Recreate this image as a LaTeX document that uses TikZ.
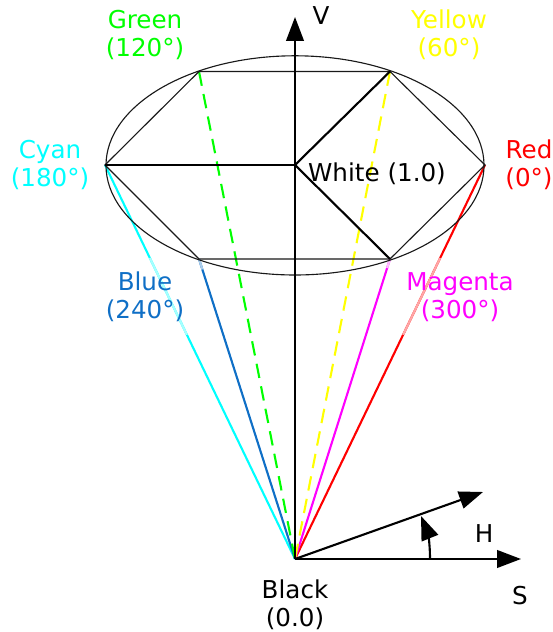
\documentclass[tikz,border=0pt]{standalone}
\usepackage{fontspec}
\setmainfont{DejaVu Sans}
\usepackage{xcolor}
\usetikzlibrary{arrows.meta,calc}
\definecolor{hsvRed}{HTML}{FF0000}
\definecolor{hsvYellow}{HTML}{FFFF00}
\definecolor{hsvGreen}{HTML}{00FF00}
\definecolor{hsvCyan}{HTML}{00FFFF}
\definecolor{hsvBlue}{HTML}{0F6FC6}
\definecolor{hsvMagenta}{HTML}{FF00FF}

\begin{document}
\begin{tikzpicture}[
    rim/.style={draw=black!90, line width=0.8pt},
    spoke/.style={draw=black, line width=1.5pt},
    axis/.style={draw=black, line width=1.5pt, -{Triangle[length=17pt,width=12.5pt]}},
    ray/.style={line width=1.5pt},
    dashray/.style={line width=1.5pt, dash pattern=on 10.3pt off 6pt},
    label/.style={font=\fontsize{17.5}{20}\selectfont, align=center, inner sep=0pt}
]
\useasboundingbox (0,0) rectangle (13.8,15.8);

% ===== CORNERS =====
\coordinate (O) at (7.375,11.675);
\coordinate (K) at (7.375,1.825);
\coordinate (R) at (12.125,11.675);
\coordinate (Y) at (9.75,14.0125);
\coordinate (G) at (4.975,14.0125);
\coordinate (C) at (2.625,11.675);
\coordinate (B) at (4.975,9.325);
\coordinate (M) at (9.75,9.325);
\coordinate (Vtip) at (7.375,15.375);
\coordinate (Stip) at (13.025,1.825);
\coordinate (Htip) at (12.075,3.5);
\coordinate (Afrom) at (10.75,1.825);
\coordinate (Ato) at (10.525,2.9);

% ===== RAYS TO BLACK =====
\draw[ray, hsvRed] (R) -- (K);
\draw[ray, hsvCyan] (C) -- (K);
\draw[ray, hsvBlue] (B) -- (K);
\draw[ray, hsvMagenta] (M) -- (K);
\draw[dashray, hsvGreen] (G) -- (K);
\draw[dashray, hsvYellow] (Y) -- (K);

% pale parts behind the labels
\draw[ray, hsvRed!35] ($(R)!0.236!(K)$) -- ($(R)!0.431!(K)$);
\draw[ray, hsvCyan!35] ($(C)!0.236!(K)$) -- ($(C)!0.431!(K)$);
\draw[ray, hsvBlue!35] (B) -- ($(B)!0.035!(K)$);
\draw[ray, hsvMagenta!25] (M) -- ($(M)!0.03!(K)$);

% ===== HEXAGON =====
\draw[rim] (7.375,11.665) ellipse (4.725 and 2.74);
\draw[rim] (R) -- (Y) -- (G) -- (C) -- (B) -- (M) -- cycle;
\draw[spoke] (C) -- (O);
\draw[spoke] (Y) -- (O) -- (M);

% ===== AXES =====
\draw[axis] (K) -- (Vtip);
\draw[axis] (K) -- (Stip);
\draw[axis] (K) -- (Htip);
\draw[axis] (Afrom) to[out=90, in=-68] (Ato);

% ===== LABELS =====
\node[label, text=hsvGreen] (lG) at (3.625,14.93) {Green\\(120°)};
\node[label, text=hsvYellow] (lY) at (11.225,14.93) {Yellow\\(60°)};
\node[label, text=hsvCyan] (lC) at (1.25,11.67) {Cyan\\(180°)};
\node[label, text=hsvRed] (lR) at (13.225,11.67) {Red\\(0°)};
\node[label, text=hsvBlue] (lB) at (3.625,8.38) {Blue\\(240°)};
\node[label, text=hsvMagenta] (lM) at (11.5,8.38) {Magenta\\(300°)};
\node[label] (lW) at (9.425,11.45) {White (1.0)};
\node[label] (lK) at (7.375,0.67) {Black\\(0.0)};
\node[label] (lV) at (8.025,15.42) {V};
\node[label] (lH) at (12.1,2.47) {H};
\node[label] (lS) at (13,0.9) {S};

\end{tikzpicture}
\end{document}
